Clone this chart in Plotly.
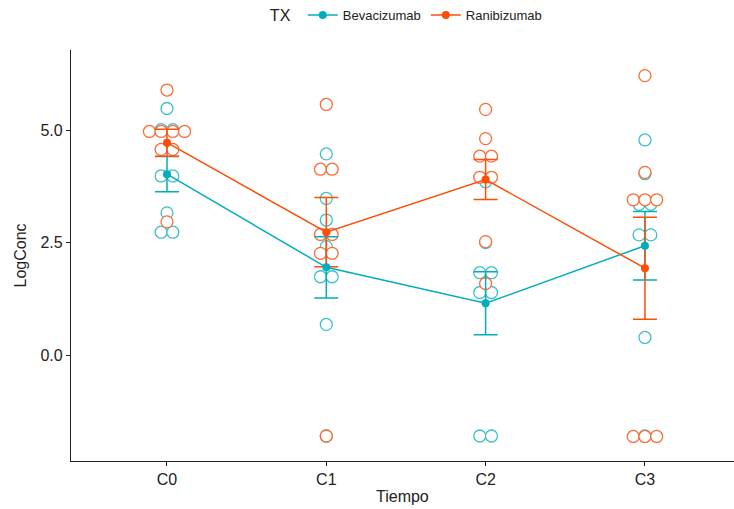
import plotly.graph_objects as go
from collections import OrderedDict

categories = ["C0", "C1", "C2", "C3"]

bev_values = [
    [5.48, 5.01, 5.01, 3.98, 3.98, 3.16, 2.73, 2.73],
    [4.47, 3.48, 3.00, 2.41, 1.74, 1.74, 0.68, -1.80],
    [3.85, 2.50, 1.83, 1.83, 1.39, 1.39, -1.80, -1.80],
    [4.78, 4.03, 3.35, 3.35, 2.67, 2.67, 0.39, -1.80],
]
ran_values = [
    [5.89, 4.97, 4.97, 4.97, 4.97, 4.57, 4.57, 2.96],
    [5.57, 4.13, 4.13, 2.68, 2.68, 2.26, 2.26, -1.80],
    [5.46, 4.81, 4.42, 4.42, 3.95, 3.95, 2.52, 1.59],
    [6.21, 4.06, 3.45, 3.45, 3.45, -1.81, -1.81, -1.81],
]

bev_mean = [4.02, 1.95, 1.15, 2.43]
bev_se = [0.39, 0.68, 0.70, 0.76]
ran_mean = [4.72, 2.73, 3.90, 1.93]
ran_se = [0.30, 0.77, 0.445, 1.135]

series_names = ["Bevacizumab", "Ranibizumab"]
colors = ["#00AFBB", "#FC4E07"]
dot_colors = ["#3EC0CA", "#FC6A36"]

FONT = "Liberation Sans, Arial, sans-serif"
DX = 0.0735  # horizontal stacking step (one dot diameter in x units)


def stacked(values_by_cat):
    xs, ys = [], []
    for i, vals in enumerate(values_by_cat):
        groups = OrderedDict()
        for v in vals:
            groups[v] = groups.get(v, 0) + 1
        for v, n in groups.items():
            for k in range(n):
                xs.append(i + (k - (n - 1) / 2) * DX)
                ys.append(v)
    return xs, ys


fig = go.Figure()
xpos = list(range(len(categories)))

# dot layers (white-filled circles)
for name, vals, col in zip(series_names, [bev_values, ran_values], dot_colors):
    xs, ys = stacked(vals)
    fig.add_trace(go.Scatter(
        x=xs, y=ys, mode="markers", showlegend=False, hoverinfo="skip",
        marker=dict(symbol="circle", size=12, color="white",
                    line=dict(width=1.3, color=col)),
    ))

# error bars
for name, m, s, col in zip(series_names, [bev_mean, ran_mean], [bev_se, ran_se], colors):
    fig.add_trace(go.Scatter(
        x=xpos, y=m, mode="markers", showlegend=False, hoverinfo="skip",
        marker=dict(size=1, color=col, opacity=0),
        error_y=dict(type="data", array=s, visible=True, color=col,
                     thickness=1.5, width=12),
    ))

# mean lines + points
for name, m, col in zip(series_names, [bev_mean, ran_mean], colors):
    fig.add_trace(go.Scatter(
        x=xpos, y=m, mode="lines+markers", name=name,
        line=dict(color=col, width=1.5),
        marker=dict(size=8, color=col),
    ))

axis_common = dict(
    showline=True, linecolor="#222222", linewidth=1.2,
    ticks="outside", ticklen=4, tickcolor="#222222", tickwidth=1.1,
    showgrid=False, zeroline=False, automargin=False,
    tickfont=dict(family=FONT, size=16, color="#222222"),
)

fig.update_layout(
    width=734, height=509,
    margin=dict(l=71, r=0, t=50, b=48, autoexpand=False),
    plot_bgcolor="white", paper_bgcolor="white",
    font=dict(family=FONT, color="#222222"),
    xaxis=dict(
        axis_common,
        tickmode="array", tickvals=xpos, ticktext=categories,
        range=[-0.6025, 3.559],
    ),
    yaxis=dict(
        axis_common,
        tickmode="array", tickvals=[0, 2.5, 5], ticktext=["0.0", "2.5", "5.0"],
        range=[-2.356, 6.78],
    ),
    legend=dict(
        orientation="h", xref="container", yref="container",
        x=0.555, xanchor="center", y=1.0, yanchor="top",
        title=dict(text="TX ", font=dict(family=FONT, size=16)),
        font=dict(family=FONT, size=13, color="#222222"),
        itemwidth=30, tracegroupgap=0,
    ),
    annotations=[
        dict(text="Tiempo", xref="paper", yref="paper", x=0.5, y=(461 - 497) / 411,
             xanchor="center", yanchor="middle", showarrow=False,
             font=dict(family=FONT, size=16, color="#222222")),
        dict(text="LogConc", xref="paper", yref="paper", x=(20 - 71) / 663, y=0.5,
             xanchor="center", yanchor="middle", showarrow=False, textangle=-90,
             font=dict(family=FONT, size=16, color="#222222")),
    ],
)

fig.write_html("out.html", config={"displayModeBar": False},
               post_script="document.body.style.margin='0';document.body.style.overflow='hidden';")
